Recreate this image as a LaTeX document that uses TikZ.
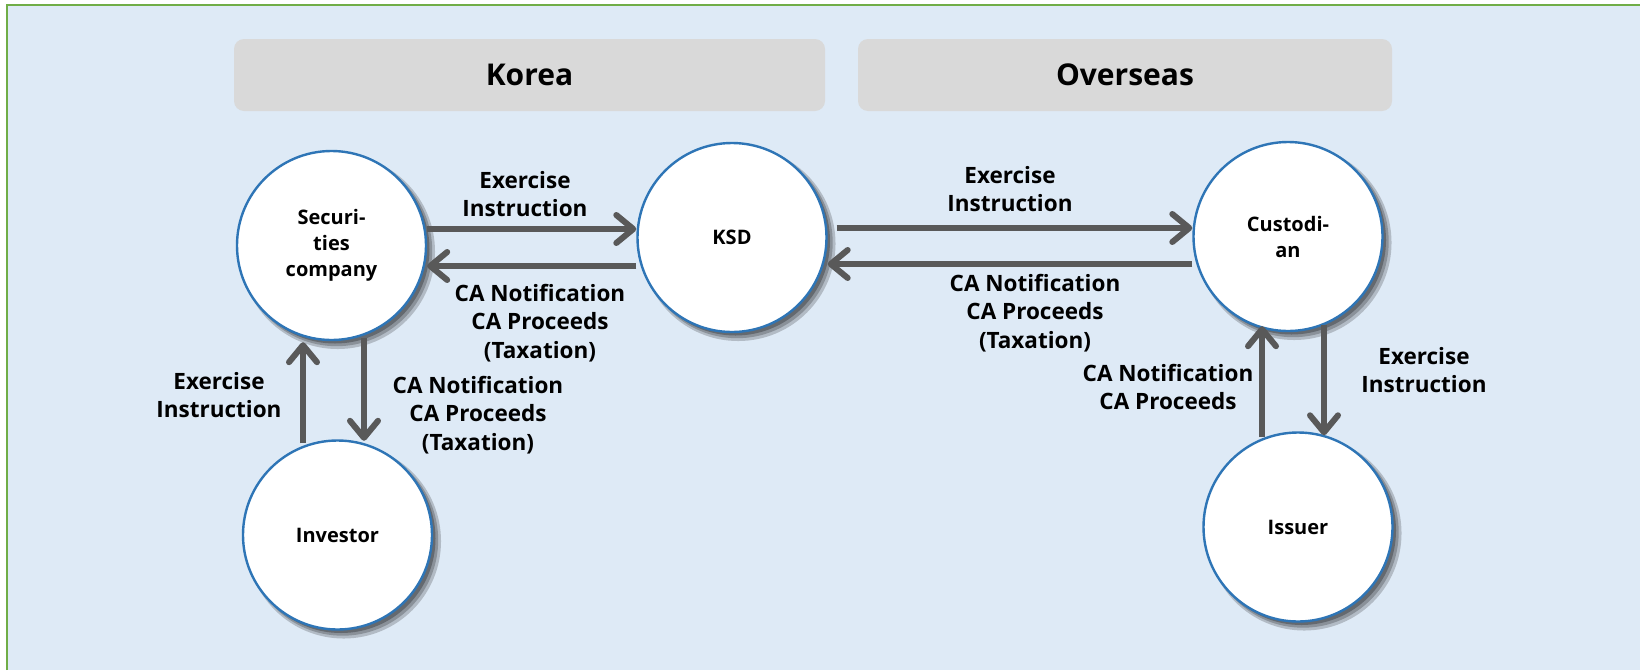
\documentclass[tikz,border=0pt]{standalone}
\usepackage{fontspec}
\setmainfont{Open Sans}
\usetikzlibrary{arrows.meta,shadows}
\definecolor{bgblue}{HTML}{DEEAF6}
\definecolor{framegreen}{HTML}{70AD47}
\definecolor{hdrgray}{HTML}{D9D9D9}
\definecolor{ringblue}{HTML}{2E75B6}
\definecolor{arrowgray}{HTML}{595959}
\colorlet{shadeA}{bgblue!80!black}
\colorlet{shadeB}{bgblue!62!black}
\colorlet{shadeC}{bgblue!45!black}
\begin{document}
\begin{tikzpicture}[x=1pt,y=-1pt,
  party/.style={circle, minimum size=189pt, inner sep=0pt, fill=white, draw=ringblue, line width=2.4pt,
    align=center, font=\bfseries\fontsize{20}{26}\selectfont,
    general shadow={fill=shadeA, draw=none, shadow xshift=6pt, shadow yshift=-6pt, shadow scale=1.03},
    general shadow={fill=shadeB, draw=none, shadow xshift=5pt, shadow yshift=-5pt, shadow scale=1.012},
    general shadow={fill=shadeC, draw=none, shadow xshift=3.5pt, shadow yshift=-3.5pt, shadow scale=1.0}},
  header/.style={fill=hdrgray, rounded corners=10pt, minimum height=72pt, inner sep=0pt,
    font=\bfseries\fontsize{30}{36}\selectfont},
  lbl/.style={align=center, font=\bfseries\fontsize{22.5}{28.5}\selectfont, inner sep=0pt},
  arr/.style={draw=arrowgray, line width=6pt, -{Straight Barb[length=17pt, width=28pt, round]}}
]
\useasboundingbox (0,0) rectangle (1640,670);
\fill[white] (0,0) rectangle (1640,670);
\fill[bgblue] (7,5) rectangle (1640,670);
\draw[framegreen, line width=2pt] (7,670) -- (7,5) -- (1640,5);

% headers
\node[header, minimum width=591pt] (korea) at (529.5,75) {Korea};
\node[header, minimum width=534pt] (overseas) at (1125,75) {Overseas};

% parties
\node[party] (sec)  at (331.5,245.5) {Securi-\\ties\\company};
\node[party] (ksd)  at (732,237.5) {KSD};
\node[party] (cust) at (1288,236.5) {Custodi-\\an};
\node[party] (inv)  at (337.5,535) {Investor};
\node[party] (iss)  at (1298,527) {Issuer};

% horizontal connectors
\draw[arr] ([yshift=16.5pt]sec.east) -- ([yshift=8.5pt]ksd.west);
\draw[arr] ([yshift=-28.5pt]ksd.west) -- ([yshift=-20.5pt]sec.east);
\draw[arr] ([xshift=9pt,yshift=9.5pt]ksd.east) -- ([yshift=8.5pt]cust.west);
\draw[arr] ([yshift=-27.5pt]cust.west) -- ([yshift=-26.5pt]ksd.east);

% vertical connectors
\draw[arr] ([xshift=-34.5pt,yshift=-4pt]inv.north) -- ([xshift=-28.5pt,yshift=-1pt]sec.south);
\draw[arr] ([xshift=32.5pt,yshift=3pt]sec.south) -- ([xshift=26.5pt,yshift=-1.5pt]inv.north);
\draw[arr] ([xshift=-36pt,yshift=-6pt]iss.north) -- ([xshift=-26pt,yshift=6pt]cust.south);
\draw[arr] ([xshift=36pt,yshift=7pt]cust.south) -- ([xshift=26pt,yshift=-4pt]iss.north);

% labels
\node[lbl] (l1) at (525,194) {Exercise\\Instruction};
\node[lbl] (l2) at (540,323) {CA Notification\\CA Proceeds\\(Taxation)};
\node[lbl] (l3) at (1010,189) {Exercise\\Instruction};
\node[lbl] (l4) at (1035,313) {CA Notification\\CA Proceeds\\(Taxation)};
\node[lbl] (l5) at (219,395) {Exercise\\Instruction};
\node[lbl] (l6) at (478,415) {CA Notification\\CA Proceeds\\(Taxation)};
\node[lbl] (l7) at (1168,387) {CA Notification\\CA Proceeds};
\node[lbl] (l8) at (1424,370) {Exercise\\Instruction};
\end{tikzpicture}
\end{document}
